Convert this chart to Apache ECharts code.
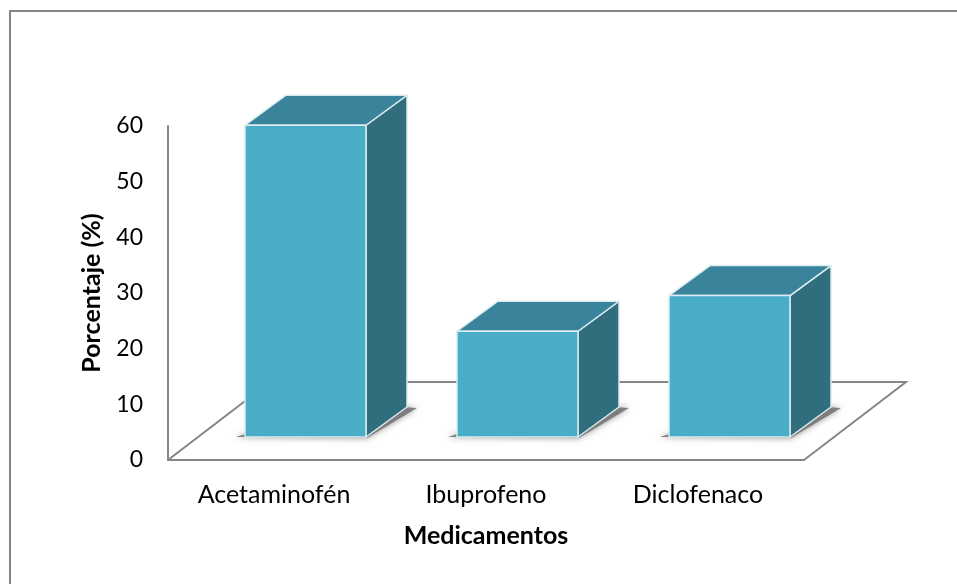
<!DOCTYPE html>
<html><head><meta charset="utf-8">
<script src="https://cdn.jsdelivr.net/npm/echarts@6/dist/echarts.min.js"></script>
<style>html,body{margin:0;padding:0;background:#fff}#c{width:957px;height:584px}</style>
</head><body><div id="c"></div>
<script>
const categories = ['Acetaminofén', 'Ibuprofeno', 'Diclofenaco'];
const values = [56, 19, 25.4];
const yTicks = [0, 10, 20, 30, 40, 50, 60];
const axisTitleX = 'Medicamentos';
const axisTitleY = 'Porcentaje (%)';

const FONT = 'Lato';
const LINE = '#868686';
const FRONT = '#4aadc8', TOP = '#3a849b', SIDE = '#306e7e', EDGE = '#dcecf0';
const FLOOR_DX = 102, FLOOR_DY = -78;   // depth of the floor
const BAR_DX = 31.5, BAR_DY = -23;      // bar front plane relative to the axis plane
const DEPTH_X = 41, DEPTH_Y = -30;      // bar depth
const BAR_W = 121;

function renderFloor(params, api) {
  const c = params.coordSys;
  const bl = [c.x, c.y + c.height], br = [c.x + c.width, c.y + c.height];
  return {
    type: 'polyline',
    shape: { points: [bl, [bl[0] + FLOOR_DX, bl[1] + FLOOR_DY], [br[0] + FLOOR_DX, br[1] + FLOOR_DY], br] },
    style: { stroke: LINE, lineWidth: 2, fill: null },
    silent: true
  };
}

function renderBar(params, api) {
  const base = api.coord([api.value(0), 0]);
  const top = api.coord([api.value(0), api.value(1)]);
  const x0 = base[0] + BAR_DX - BAR_W / 2, x1 = x0 + BAR_W;
  const yb = base[1] + BAR_DY, yt = top[1] + BAR_DY;
  const edge = { stroke: EDGE, lineWidth: 1.5, lineJoin: 'round' };
  const soft = { fill: 'rgba(120,120,120,0.9)', shadowBlur: 6, shadowColor: 'rgba(110,110,110,0.8)' };
  return {
    type: 'group',
    children: [
      { type: 'polygon',
        shape: { points: [[x0 - 9, yb], [x1 + 1, yb + 1], [x1 + DEPTH_X + 10, yb + DEPTH_Y + 1], [x1 + DEPTH_X - 5, yb + DEPTH_Y], [x0, yb - 3]] },
        style: soft },
      { type: 'polygon',
        shape: { points: [[x1, yb], [x1 + DEPTH_X, yb + DEPTH_Y], [x1 + DEPTH_X, yt + DEPTH_Y], [x1, yt]] },
        style: Object.assign({ fill: SIDE }, edge) },
      { type: 'polygon',
        shape: { points: [[x0, yt], [x1, yt], [x1 + DEPTH_X, yt + DEPTH_Y], [x0 + DEPTH_X, yt + DEPTH_Y]] },
        style: Object.assign({ fill: TOP }, edge) },
      { type: 'rect',
        shape: { x: x0, y: yt, width: BAR_W, height: yb - yt },
        style: Object.assign({ fill: FRONT }, edge) }
    ]
  };
}

const chart = echarts.init(document.getElementById('c'), null, { renderer: 'canvas' });
chart.setOption({
  animation: false,
  backgroundColor: '#fff',
  textStyle: { fontFamily: FONT },
  grid: { left: 168, top: 126, width: 636, height: 334, containLabel: false },
  xAxis: {
    type: 'category', data: categories,
    axisLine: { show: true, onZero: false, lineStyle: { color: LINE, width: 2 } },
    axisTick: { show: false },
    axisLabel: { color: '#000', fontSize: 25, fontFamily: FONT, margin: 22, interval: 0 },
    name: axisTitleX, nameLocation: 'middle', nameGap: 63,
    nameTextStyle: { color: '#000', fontSize: 25, fontWeight: 'bold', fontFamily: FONT }
  },
  yAxis: {
    type: 'value', min: yTicks[0], max: yTicks[yTicks.length - 1], interval: yTicks[1] - yTicks[0],
    axisLine: { show: true, lineStyle: { color: LINE, width: 2 } },
    axisTick: { show: false },
    splitLine: { show: false },
    axisLabel: { color: '#000', fontSize: 23, fontFamily: FONT, margin: 25 },
    name: axisTitleY, nameLocation: 'middle', nameGap: 64, nameRotate: 90,
    nameTextStyle: { color: '#000', fontSize: 25, fontWeight: 'bold', fontFamily: FONT }
  },
  graphic: [
    { type: 'polyline', shape: { points: [[10, 584], [10, 11], [957, 11]] }, style: { stroke: LINE, lineWidth: 2, fill: null }, silent: true }
  ],
  series: [
    { type: 'custom', coordinateSystem: 'cartesian2d', renderItem: renderFloor, data: [[0, 0]], silent: true, z: 1, clip: false },
    { type: 'custom', coordinateSystem: 'cartesian2d', renderItem: renderBar, silent: true, z: 2, clip: false,
      encode: { x: 0, y: 1 },
      data: categories.map((c, i) => [i, values[i]]) }
  ]
});
</script></body></html>
